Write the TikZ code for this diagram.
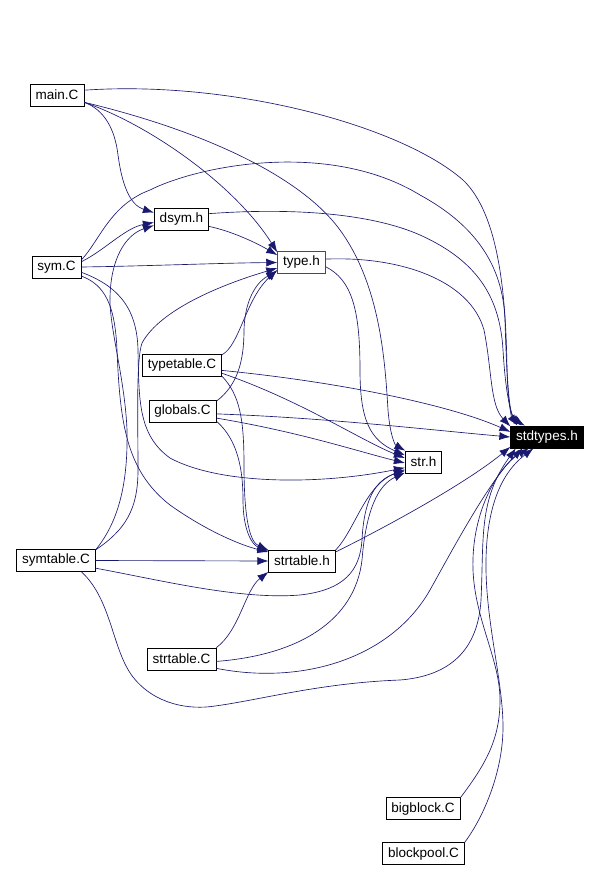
\documentclass[tikz,border=0pt]{standalone}
\usepackage{fontspec}
\setmainfont{Liberation Sans}
\usetikzlibrary{arrows.meta}
\definecolor{midnight}{RGB}{25,25,112}
\definecolor{rootred}{RGB}{200,20,20}

\begin{document}
\begin{tikzpicture}[
    x=1pt, y=-1pt,
    file/.style={draw, rectangle, line width=0.7pt, font=\fontsize{13.5}{15}\selectfont, inner xsep=5.5pt, inner ysep=0pt, minimum height=22pt},
    hub/.style={file, fill=black, text=white},
    trunc/.style={file, draw=rootred},
    inc/.style={draw=midnight, line width=0.65pt, -{Latex[length=11pt,width=8pt]}}
]
\useasboundingbox (0,0) rectangle (599,871);

% files
\node[file] (main) at (57,95) {main.C};
\node[file] (dsym) at (181.5,219) {dsym.h};
\node[file] (sym) at (56.5,267) {sym.C};
\node[trunc] (type) at (301.5,262.5) {type.h};
\node[hub] (std) at (547,437) {stdtypes.h};
\node[file] (str) at (423.5,462) {str.h};
\node[file] (typetable) at (182,365.5) {typetable.C};
\node[file] (globals) at (182.5,411.5) {globals.C};
\node[file] (symtable) at (56,560.5) {symtable.C};
\node[file] (strtableh) at (302,561) {strtable.h};
\node[file] (strtableC) at (181.5,659) {strtable.C};
\node[file] (bigblock) at (423,808.5) {bigblock.C};
\node[file] (blockpool) at (423.5,853.5) {blockpool.C};

% main.C
\draw[inc] (main.10) .. controls (230,80) and (400,125) .. (463,180) .. controls (500,215) and (506,300) .. (507,370) .. controls (508,405) and (512,418) .. (std.159);
\draw[inc] (main.-15) .. controls (105,110) and (115,130) .. (118,155) .. controls (122,185) and (130,205) .. (dsym.167);
\draw[inc] (main.-15) .. controls (150,125) and (235,185) .. (type.157);
\draw[inc] (main.-15) .. controls (200,130) and (300,175) .. (340,230) .. controls (380,285) and (385,360) .. (388,410) .. controls (390,435) and (395,445) .. (str.148);

% sym.C
\draw[inc] (sym.16) .. controls (100,240) and (110,205) .. (150,190) .. controls (200,165) and (330,140) .. (420,195) .. controls (475,225) and (503,265) .. (505,320) .. controls (507,390) and (510,415) .. (std.156);
\draw[inc] (sym.12) .. controls (105,250) and (125,228) .. (dsym.-173);
\draw[inc] (sym.0) .. controls (150,266) and (220,263) .. (type.180);
\draw[inc] (sym.-12) .. controls (115,285) and (137,305) .. (138,350) .. controls (139,400) and (138,435) .. (170,458) .. controls (220,485) and (320,485) .. (str.-163);
\draw[inc] (sym.-20) .. controls (105,285) and (115,305) .. (117,350) .. controls (120,420) and (125,470) .. (170,505) .. controls (205,530) and (240,545) .. (strtableh.165);

% dsym.h
\draw[inc] (dsym.11) .. controls (300,207) and (375,215) .. (420,235) .. controls (480,262) and (500,300) .. (503,350) .. controls (506,400) and (512,418) .. (std.153);
\draw[inc] (dsym.-15) .. controls (235,232) and (260,245) .. (type.163);

% type.h
\draw[inc] (type.8) .. controls (400,256) and (470,280) .. (484,330) .. controls (492,370) and (490,405) .. (std.164);
\draw[inc] (type.-10) .. controls (352,280) and (360,310) .. (360,370) .. controls (360,420) and (370,440) .. (str.160);

% typetable.C
\draw[inc] (typetable.15) .. controls (240,345) and (245,300) .. (type.-163);
\draw[inc] (typetable.-7) .. controls (340,382) and (450,405) .. (std.172);
\draw[inc] (typetable.-11) .. controls (300,400) and (360,440) .. (str.168);
\draw[inc] (typetable.-15) .. controls (240,395) and (244,420) .. (244,465) .. controls (244,520) and (250,542) .. (strtableh.162);

% globals.C
\draw[inc] (globals.17) .. controls (238,385) and (244,360) .. (244,330) .. controls (245,295) and (260,280) .. (type.-160);
\draw[inc] (globals.-4) .. controls (330,418) and (430,430) .. (std.180);
\draw[inc] (globals.-11) .. controls (300,432) and (360,452) .. (str.-177);
\draw[inc] (globals.-16) .. controls (238,440) and (243,470) .. (243,500) .. controls (243,530) and (252,545) .. (strtableh.163);

% symtable.C
\draw[inc] (symtable.15) .. controls (120,520) and (128,480) .. (127,430) .. controls (125,380) and (110,330) .. (110,300) .. controls (110,260) and (125,235) .. (dsym.-167);
\draw[inc] (symtable.15) .. controls (125,530) and (138,510) .. (138,470) .. controls (138,420) and (136,360) .. (142,343) .. controls (160,310) and (220,285) .. (type.-167);
\draw[inc] (symtable.0) -- (strtableh.180);
\draw[inc] (symtable.-11) .. controls (160,580) and (240,600) .. (300,595) .. controls (345,590) and (360,570) .. (362,540) .. controls (364,500) and (375,480) .. (str.-155);
\draw[inc] (symtable.-24) .. controls (112,600) and (112,650) .. (133,677) .. controls (155,705) and (190,710) .. (215,706) .. controls (260,700) and (320,683) .. (400,680) .. controls (450,676) and (478,650) .. (481,600) .. controls (484,540) and (478,500) .. (std.-160);

% strtable.h
\draw[inc] (strtableh.18) .. controls (355,530) and (365,485) .. (str.-158);
\draw[inc] (strtableh.15) .. controls (400,520) and (470,480) .. (std.-165);

% strtable.C
\draw[inc] (strtableC.18) .. controls (240,630) and (245,590) .. (strtableh.-162);
\draw[inc] (strtableC.-4) .. controls (300,655) and (355,620) .. (362,560) .. controls (366,510) and (378,485) .. (str.-150);
\draw[inc] (strtableC.-15) .. controls (300,685) and (390,660) .. (430,590) .. controls (455,545) and (490,480) .. (std.-155);

% pools
\draw[inc] (bigblock.16) .. controls (485,765) and (500,740) .. (500,700) .. controls (500,660) and (475,620) .. (473,570) .. controls (471,510) and (500,465) .. (std.-148);
\draw[inc] (blockpool.15) .. controls (485,815) and (503,770) .. (503,727) .. controls (503,680) and (485,620) .. (486,560) .. controls (487,500) and (505,470) .. (std.-140);
\end{tikzpicture}
\end{document}
